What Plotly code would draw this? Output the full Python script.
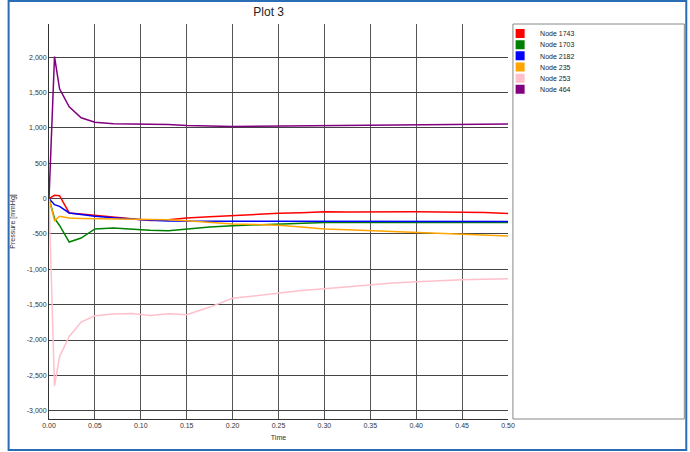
import plotly.graph_objects as go

time = [0, 0.006, 0.0115, 0.022, 0.035, 0.05, 0.07, 0.09, 0.11, 0.13, 0.15, 0.175,
        0.2, 0.225, 0.25, 0.275, 0.3, 0.325, 0.35, 0.375, 0.4, 0.425, 0.45, 0.475, 0.5]

node_1743 = [0, 47, 42, -203, -218, -236, -265, -290, -310, -300, -274, -255,
             -236, -222, -208, -200, -185, -190, -188, -180, -185, -188, -190, -195, -212]
node_1703 = [0, -280, -380, -614, -557, -429, -415, -430, -449, -453, -425, -400,
             -382, -368, -354, -345, -336, -336, -336, -336, -336, -336, -336, -336, -336]
node_2182 = [0, -85, -109, -203, -225, -250, -270, -290, -307, -318, -321, -321,
             -321, -321, -321, -320, -322, -318, -320, -322, -318, -320, -322, -324, -325]
node_235 = [0, -312, -250, -274, -280, -283, -283, -283, -285, -297, -312, -335,
            -359, -367, -375, -400, -430, -440, -453, -470, -486, -498, -510, -520, -529]
node_253 = [0, -2649, -2234, -1950, -1747, -1657, -1633, -1625, -1652, -1629, -1643, -1534,
            -1410, -1374, -1340, -1300, -1275, -1245, -1218, -1195, -1176, -1160, -1147, -1140, -1133]
node_464 = [0, 2010, 1554, 1299, 1143, 1081, 1058, 1058, 1060, 1050, 1034, 1022,
            1020, 1022, 1025, 1028, 1030, 1035, 1040, 1045, 1050, 1052, 1055, 1055, 1055]

series_names = ["Node 1743", "Node 1703", "Node 2182", "Node 235", "Node 253", "Node 464"]
series_values = [node_1743, node_1703, node_2182, node_235, node_253, node_464]
series_colors = ["red", "green", "blue", "orange", "pink", "purple"]

x_ticks = [0, 0.05, 0.1, 0.15, 0.2, 0.25, 0.3, 0.35, 0.4, 0.45, 0.5]
x_tick_labels = ["0.00", "0.05", "0.10", "0.15", "0.20", "0.25", "0.30", "0.35", "0.40", "0.45", "0.50"]
y_ticks = [2000, 1500, 1000, 500, 0, -500, -1000, -1500, -2000, -2500, -3000]
y_tick_labels = ["2,000", "1,500", "1,000", "500", "0", "-500", "-1,000", "-1,500", "-2,000", "-2,500", "-3,000"]

W, H = 690, 452
L, R, T, B = 42, 182, 24, 32
pw, ph = W - L - R, H - T - B


def px(x):
    return (x - L) / pw


def py(y):
    return 1 - (y - T) / ph


legend_ids = ["legend"] + ["legend%d" % (i + 1) for i in range(1, len(series_names))]

fig = go.Figure()
for name, vals, col in zip(series_names, series_values, series_colors):
    fig.add_trace(go.Scatter(x=time, y=vals, mode="lines", name=name,
                             line=dict(color=col, width=1.5), showlegend=False,
                             legendgroup=name))
for name, col, lid in zip(series_names, series_colors, legend_ids):
    fig.add_trace(go.Scatter(x=[None], y=[None], mode="markers", name=name,
                             marker=dict(color=col, symbol="square", size=9),
                             legendgroup=name, showlegend=True, legend=lid))

legend_layouts = {}
for i, lid in enumerate(legend_ids):
    legend_layouts[lid] = dict(
        x=px(500), y=py(19 + 11.2 * i), xanchor="left", yanchor="top",
        bgcolor="rgba(0,0,0,0)", borderwidth=0, itemwidth=30,
        font=dict(size=7, color="#222"), tracegroupgap=0, itemclick=False,
    )

fig.update_layout(
    width=W, height=H,
    margin=dict(l=L, r=R, t=T, b=B),
    paper_bgcolor="white", plot_bgcolor="white",
    font=dict(family="Liberation Sans, Arial, sans-serif", size=7, color="#333"),
    title=dict(text="Plot 3", x=px(265), xref="paper", xanchor="center",
               y=1 - 12 / H, yanchor="middle",
               font=dict(size=12, color="#222")),
    xaxis=dict(range=[0, 0.5], tickvals=x_ticks, ticktext=x_tick_labels,
               showgrid=True, gridcolor="#555", gridwidth=1,
               zeroline=False, showline=True, linecolor="#333", linewidth=1,
               ticks="", tickfont=dict(size=7, color="#333"),
               title=dict(text="Time", font=dict(size=7, color="#333"), standoff=6)),
    yaxis=dict(range=[-3117, 2470], tickvals=y_ticks, ticktext=y_tick_labels,
               showgrid=True, gridcolor="#444", gridwidth=1,
               zeroline=False, showline=True, linecolor="#333", linewidth=1,
               ticks="", tickfont=dict(size=7, color="#333"),
               title=dict(text="Pressure [mmHg]", font=dict(size=7, color="#333"), standoff=10)),
    shapes=[
        dict(type="rect", xref="paper", yref="paper",
             x0=px(513), x1=px(687), y0=py(420), y1=py(24),
             line=dict(color="#888", width=1), fillcolor="rgba(0,0,0,0)", layer="above"),
        dict(type="rect", xref="paper", yref="paper",
             x0=px(1), x1=px(689), y0=py(451), y1=py(1),
             line=dict(color="#2a6db5", width=2), fillcolor="rgba(0,0,0,0)", layer="above"),
    ],
    **legend_layouts,
)

fig.write_html("out.html", config={"displayModeBar": False},
               post_script="document.body.style.margin='0';")
